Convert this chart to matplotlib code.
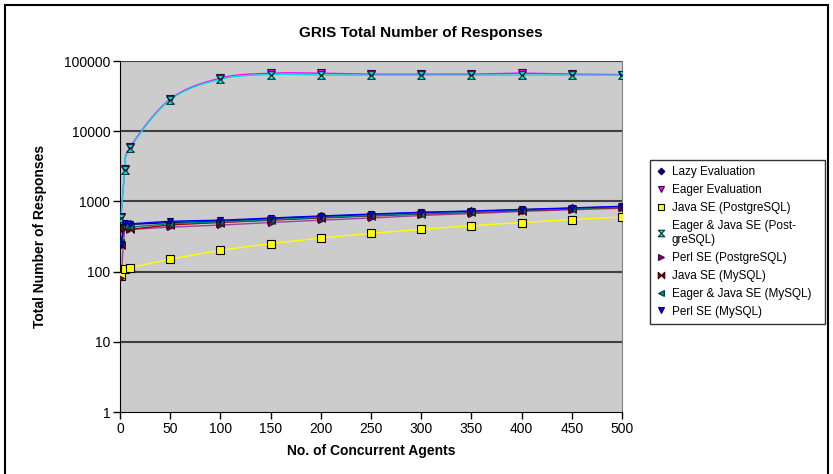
import numpy as np
import matplotlib
matplotlib.use("Agg")
import matplotlib.pyplot as plt
from matplotlib.lines import Line2D
from matplotlib.patches import Rectangle

plt.rcParams['font.family'] = ['Liberation Sans', 'DejaVu Sans']

# Data
agents = [1, 5, 10, 50, 100, 150, 200, 250, 300, 350, 400, 450, 500]

lazy_eval = [250, 480, 470, 500, 520, 570, 610, 650, 690, 720, 760, 800, 840]
eager_eval = [600, 2900, 5900, 28700, 57000, 67000, 67000, 65000, 65000, 65000, 67000, 65000, 64000]
java_pg = [86, 109, 113, 150, 200, 250, 300, 350, 400, 450, 500, 550, 600]
eager_java_pg = [580, 2800, 5700, 28000, 55000, 64000, 63000, 63000, 63000, 63000, 63000, 63000, 63000]
perl_pg = [80, 420, 400, 430, 460, 500, 540, 580, 630, 670, 720, 760, 800]
java_my = [240, 420, 400, 460, 500, 540, 580, 620, 660, 700, 740, 780, 820]
eager_java_my = [260, 450, 430, 480, 510, 550, 590, 630, 670, 710, 750, 790, 830]
perl_my = [250, 500, 480, 520, 540, 580, 620, 660, 700, 730, 770, 810, 850]

labels = ["Lazy Evaluation", "Eager Evaluation", "Java SE (PostgreSQL)",
          "Eager & Java SE (Post-\ngreSQL)", "Perl SE (PostgreSQL)", "Java SE (MySQL)",
          "Eager & Java SE (MySQL)", "Perl SE (MySQL)"]

hourglass = [(-1, 1), (1, 1), (-1, -1), (1, -1), (-1, 1)]
bowtie = [(-1, 1), (-1, -1), (1, 1), (1, -1), (-1, 1)]

# (values, line colour, marker, face, edge, size)
series = [
    (lazy_eval, "#000080", "D", "#000080", "#000040", 4),
    (eager_eval, "#ff00ff", "v", "#ff00ff", "#400040", 5.5),
    (java_pg, "#ffff00", "s", "#ffff00", "#000000", 5.5),
    (eager_java_pg, "#00e0e0", hourglass, "#00ffff", "#003030", 5.5),
    (perl_pg, "#a040a0", ">", "#800080", "#400040", 5),
    (java_my, "#a00000", bowtie, "#800000", "#400000", 5.5),
    (eager_java_my, "#008080", "<", "#008080", "#004040", 5),
    (perl_my, "#0000ff", "v", "#0000ff", "#000060", 5),
]


def smooth(xs, ys, n=30):
    """Catmull-Rom curve through the points, in (x, log y) space"""
    p = np.column_stack([np.asarray(xs, float), np.log10(ys)])
    p = np.vstack([p[0], p, p[-1]])
    out = []
    t = np.linspace(0, 1, n)[:, None]
    for i in range(1, len(p) - 2):
        p0, p1, p2, p3 = p[i - 1], p[i], p[i + 1], p[i + 2]
        c1 = p1 + (p2 - p0) / 6
        c2 = p2 - (p3 - p1) / 6
        seg = ((1 - t) ** 3) * p1 + 3 * ((1 - t) ** 2) * t * c1 + 3 * (1 - t) * t ** 2 * c2 + t ** 3 * p2
        out.append(seg)
    out = np.vstack(out)
    return out[:, 0], 10 ** out[:, 1]


fig = plt.figure(figsize=(8.33, 4.74), dpi=100)
ax = fig.add_axes([120 / 833, 1 - 412 / 474, 502 / 833, 351 / 474])
ax.set_facecolor("#cccccc")

handles = []
for (vals, lc, mk, fc, ec, ms), lab in zip(series, labels):
    sx, sy = smooth(agents, vals)
    ax.plot(sx, sy, color=lc, lw=1, zorder=3)
    ax.plot(agents, vals, ls="none", marker=mk, mfc=fc, mec=ec, ms=ms, mew=0.8, zorder=4)
    handles.append(Line2D([], [], ls="none", marker=mk, mfc=fc, mec=ec, ms=ms * 0.85, mew=0.8))

ax.set_yscale("log")
ax.set_ylim(1, 100000)
ax.set_xlim(0, 500)
ax.set_xticks(range(0, 501, 50))
ax.set_yticks([1, 10, 100, 1000, 10000, 100000])
ax.set_yticklabels(["1", "10", "100", "1000", "10000", "100000"])
ax.yaxis.set_minor_locator(matplotlib.ticker.NullLocator())
for v in [10, 100, 1000, 10000, 100000]:
    ax.axhline(v, color="#404040", lw=1.5, zorder=2)

ax.spines["top"].set_visible(False)
ax.spines["right"].set_color("#808080")
ax.spines["left"].set_color("black")
ax.spines["bottom"].set_color("black")
ax.tick_params(direction="out", length=5, width=1, labelsize=10, pad=2)

ax.set_xlabel("No. of Concurrent Agents", fontsize=10, fontweight="bold", labelpad=6)
ax.set_ylabel("Total Number of Responses", fontsize=10, fontweight="bold", labelpad=12)
fig.text(421 / 833, 1 - 33 / 474, "GRIS Total Number of Responses", ha="center", va="center",
         fontsize=11, fontweight="bold")

leg = fig.legend(handles, labels, loc="upper left",
                 bbox_to_anchor=(650 / 833, 1 - 322 / 474, 175 / 833, 162 / 474),
                 bbox_transform=fig.transFigure, mode="expand", fontsize=8.5, frameon=True,
                 fancybox=False, handlelength=0.8, handletextpad=0.5, borderpad=0.55,
                 labelspacing=0.5, borderaxespad=0)
leg.get_frame().set_edgecolor("black")
leg.get_frame().set_linewidth(1)

fig.patches.append(Rectangle((5 / 833, -0.01), 823 / 833, 1 - 5 / 474 + 0.01, transform=fig.transFigure,
                             fill=False, edgecolor="black", lw=1.5))

fig.savefig("out.png", dpi=100)
